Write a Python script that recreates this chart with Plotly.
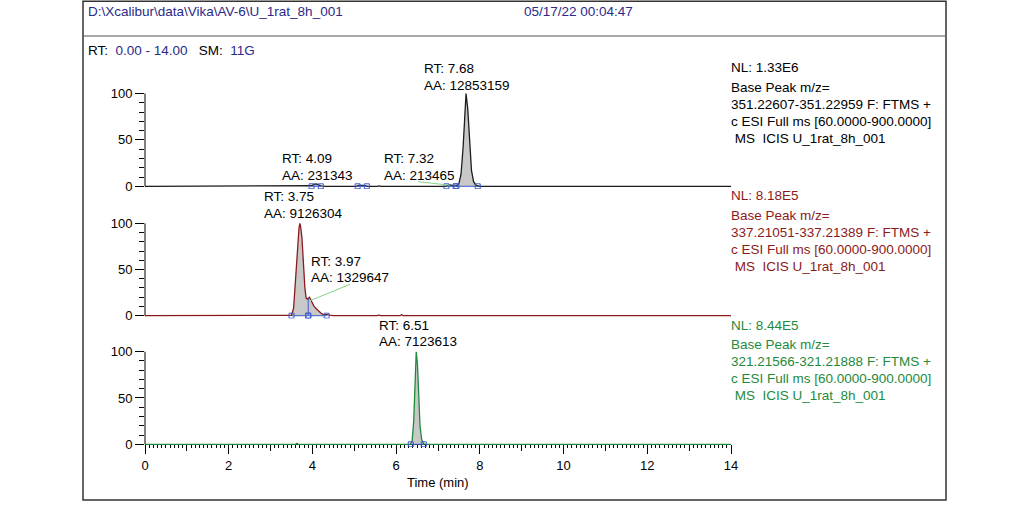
import numpy as np
import plotly.graph_objects as go

# ---------------- data ----------------
# Panel 1: Base Peak m/z 351.22607-351.22959 (NL 1.33E6)
t1 = [0.0, 3.90, 3.98, 4.03, 4.09, 4.14, 4.20, 4.30, 5.05, 5.10, 5.15, 5.20, 5.26, 5.32,
      5.55, 5.60, 5.65, 7.18, 7.24, 7.28, 7.34, 7.40, 7.44, 7.50, 7.55, 7.60, 7.64, 7.67,
      7.71, 7.75, 7.80, 7.85, 7.90, 7.95, 8.05, 14.0]
i1 = [0.0, 0.0, 0.6, 2.0, 2.6, 1.8, 0.5, 0.0, 0.0, 0.9, 1.3, 1.1, 0.6, 0.0,
      0.0, 0.5, 0.0, 0.0, 0.9, 1.6, 1.0, 0.4, 0.3, 3.0, 13.0, 42.0, 80.0, 100.0,
      84.0, 48.0, 17.0, 5.0, 1.5, 0.3, 0.0, 0.0]
peaks1 = [(3.98, 4.20), (5.08, 5.30), (7.20, 7.42), (7.44, 7.95)]

# Panel 2: Base Peak m/z 337.21051-337.21389 (NL 8.18E5)
t2 = [0.0, 3.45, 3.50, 3.55, 3.60, 3.65, 3.68, 3.70, 3.72, 3.75, 3.78, 3.82, 3.85, 3.88,
      3.93, 3.96, 3.99, 4.03, 4.08, 4.14, 4.20, 4.25, 4.30, 4.35, 4.40, 4.50, 5.55, 5.58,
      5.62, 6.10, 6.13, 6.16, 14.0]
i2 = [0.0, 0.0, 0.5, 8.0, 42.0, 80.0, 95.0, 100.0, 96.0, 84.0, 55.0, 30.0, 19.0, 18.0,
      20.0, 17.0, 14.0, 11.0, 8.0, 5.0, 3.0, 1.5, 1.6, 1.2, 0.5, 0.0, 0.0, 0.8,
      0.0, 0.0, 1.2, 0.0, 0.0]
peaks2 = [(3.50, 3.90), (3.90, 4.34)]

# Panel 3: Base Peak m/z 321.21566-321.21888 (NL 8.44E5)
t3 = [0.0, 3.60, 3.63, 3.66, 6.33, 6.38, 6.42, 6.45, 6.48, 6.51, 6.54, 6.57, 6.61, 6.66, 6.72, 14.0]
i3 = [0.0, 0.0, 1.0, 0.0, 0.0, 3.0, 25.0, 65.0, 100.0, 86.0, 50.0, 20.0, 5.0, 0.5, 0.0, 0.0]
peaks3 = [(6.35, 6.66)]

nl_values = ["1.33E6", "8.18E5", "8.44E5"]
mz_ranges = ["351.22607-351.22959", "337.21051-337.21389", "321.21566-321.21888"]
scan_filter = "c ESI Full ms [60.0000-900.0000]"
ms_line = "\u00a0MS\u00a0\u00a0ICIS U_1rat_8h_001"

label_rt = [["4.09", "7.32", "7.68"], ["3.75", "3.97"], ["6.51"]]
label_aa = [["231343", "213465", "12853159"], ["9126304", "1329647"], ["7123613"]]

x_ticks_major = list(range(0, 15))
x_ticks_label = list(range(0, 15, 2))
y_ticks = [0, 50, 100]

file_path = r"D:\Xcalibur\data\Vika\AV-6\U_1rat_8h_001"
date_str = "05/17/22 00:04:47"

# ---------------- layout helpers ----------------
W, H = 1033, 508
FONT = "Liberation Sans, Arial, Helvetica, sans-serif"
FS = 13.5
TFS = 13
NAVY = "#2a2a8a"
COLORS = ["#1c1c1c", "#8b1a1a", "#1f8a3c"]
GREY = "#c8c8c8"
BLUE = "#3c5cc8"
GREEN_LINK = "#86d486"

def px(x):
    return x / W

def py(y):
    return 1 - y / H

X0, X1 = 145, 731
panel_px = [(93.5, 186.3), (223.3, 315.7), (351.7, 444.3)]  # (y of 100, y of 0)
YLO, YHI = -3, 104

fig = go.Figure()

traces_t = [t1, t2, t3]
traces_i = [i1, i2, i3]
peaks_all = [peaks1, peaks2, peaks3]
yrefs = ["y", "y2", "y3"]

for k in range(3):
    t = np.array(traces_t[k])
    v = np.array(traces_i[k])
    yr = yrefs[k]
    for (a, b) in peaks_all[k]:
        m = (t >= a) & (t <= b)
        xs = np.concatenate([[a], t[m], [b]])
        ys = np.concatenate([[np.interp(a, t, v)], v[m], [np.interp(b, t, v)]])
        fig.add_trace(go.Scatter(x=xs, y=ys, mode="lines", fill="tozeroy",
                                 fillcolor=GREY, line=dict(width=0),
                                 xaxis="x", yaxis=yr, hoverinfo="skip", showlegend=False))
    fig.add_trace(go.Scatter(x=t, y=v, mode="lines", line=dict(color=COLORS[k], width=1.3),
                             xaxis="x", yaxis=yr, hoverinfo="skip", showlegend=False))
    for (a, b) in peaks_all[k]:
        fig.add_trace(go.Scatter(x=[a, b], y=[0, 0], mode="lines+markers",
                                 line=dict(color=BLUE, width=1),
                                 marker=dict(symbol="square-open", size=5, color=BLUE, line=dict(width=1)),
                                 xaxis="x", yaxis=yr, hoverinfo="skip", showlegend=False))

split = peaks2[0][1]
fig.add_trace(go.Scatter(x=[split, split], y=[0, np.interp(split, t2, i2)], mode="lines",
                         line=dict(color=BLUE, width=1), xaxis="x", yaxis="y2",
                         hoverinfo="skip", showlegend=False))

fig.add_trace(go.Scatter(x=[0, 14], y=[0, 0], mode="none", xaxis="x2", yaxis="y3",
                         hoverinfo="skip", showlegend=False))

layout = dict(
    template="none",
    width=W, height=H, margin=dict(l=0, r=0, t=0, b=0, pad=0, autoexpand=False),
    paper_bgcolor="white", plot_bgcolor="rgba(0,0,0,0)",
    font=dict(family=FONT, size=FS, color="black"),
    showlegend=False,
)

layout["xaxis"] = dict(domain=[px(X0), px(X1)], range=[0, 14], anchor="free",
                       position=py(panel_px[2][1]), showline=True, linecolor="black",
                       linewidth=1, ticks="outside", tickvals=x_ticks_major,
                       ticktext=[""] * len(x_ticks_major), ticklen=6, tickcolor="black",
                       tickwidth=1, automargin=False,
                       minor=dict(ticks="outside", dtick=0.1, tick0=0, ticklen=3,
                                  tickcolor="black", tickwidth=1, showgrid=False),
                       showgrid=False, zeroline=False, fixedrange=True)
layout["xaxis2"] = dict(domain=[px(X0), px(X1)], range=[0, 14], anchor="free",
                        overlaying="x", position=py(panel_px[2][1]), showline=False,
                        ticks="outside", tickvals=x_ticks_label,
                        ticktext=[str(v) for v in x_ticks_label], ticklen=9,
                        tickcolor="black", tickwidth=1, showgrid=False, zeroline=False,
                        automargin=False,
                        tickfont=dict(size=TFS, color="black"), side="bottom")

for k in range(3):
    y100, y0 = panel_px[k]
    ppu = (y0 - y100) / 100.0
    dom = [py(y0 - YLO * ppu), py(y100 - (YHI - 100) * ppu)]
    key = "yaxis" if k == 0 else "yaxis%d" % (k + 1)
    layout[key] = dict(domain=dom, range=[YLO, YHI], anchor="x", showline=False,
                       ticks="outside", tickvals=y_ticks, automargin=False,
                       ticktext=[str(v) for v in y_ticks], ticklen=9, tickcolor="black",
                       tickwidth=1,
                       minor=dict(ticks="outside", tickvals=[10, 20, 30, 40, 60, 70, 80, 90],
                                  ticklen=5, tickcolor="black", tickwidth=1, showgrid=False),
                       showgrid=False, zeroline=False, tickfont=dict(size=TFS, color="black"))

shapes = []
shapes.append(dict(type="rect", xref="paper", yref="paper", x0=px(83), x1=px(946),
                   y0=py(500), y1=py(1.2), line=dict(color="#333333", width=1.5)))
shapes.append(dict(type="line", xref="paper", yref="paper", x0=px(83), x1=px(946),
                   y0=py(36), y1=py(36), line=dict(color="#555555", width=1)))
for k in range(3):
    shapes.append(dict(type="line", xref="paper", yref=yrefs[k], x0=px(X0), x1=px(X0),
                       y0=0, y1=100, line=dict(color="black", width=1)))

annotations = []

def txt(text, x, y, color="black", size=FS, xanchor="left"):
    annotations.append(dict(text=text, x=px(x), y=py(y), xref="paper", yref="paper",
                            xanchor=xanchor, yanchor="middle", showarrow=False,
                            font=dict(family=FONT, size=size, color=color)))

txt(file_path, 86, 12, NAVY)
txt(date_str, 522, 12, NAVY)
txt('RT:\u00a0\u00a0<span style="color:%s">0.00 - 14.00</span>\u00a0\u00a0\u00a0SM:\u00a0\u00a0<span style="color:%s">11G</span>'
    % (NAVY, NAVY), 86, 50)

info_y = [(67.5, 87.3, 104.4, 121.6, 138.8), (195, 215, 232.3, 249.3, 266.3),
          (325, 344.3, 361.6, 378.9, 395.8)]
info_col = ["black", "#8b1a1a", "#1f8a3c"]
for k in range(3):
    ys = info_y[k]
    c = info_col[k]
    txt("NL: " + nl_values[k], 729, ys[0], c)
    txt("Base Peak m/z=", 729, ys[1], c)
    txt(mz_ranges[k] + " F: FTMS +", 729, ys[2], c)
    txt(scan_filter, 729, ys[3], c)
    txt(ms_line, 729, ys[4], c)

label_pos = [[(280, 158.3), (381.7, 158.3), (421.7, 69)],
             [(261.7, 196.7), (309.3, 261)],
             [(377.3, 325)]]
for k in range(3):
    for j in range(len(label_rt[k])):
        lx, ly = label_pos[k][j]
        txt("RT: " + label_rt[k][j], lx, ly)
        txt("AA: " + label_aa[k][j], lx, ly + 16.7)

connectors = [(0, 1, (418, 181.7)), (1, 1, (350, 284.3))]
for (k, j, (sx, sy)) in connectors:
    y100, y0 = panel_px[k]
    ppu = (y0 - y100) / 100.0
    rt = float(label_rt[k][j])
    apex = float(np.interp(rt, traces_t[k], traces_i[k]))
    tx = (sx - X0) / (X1 - X0) * 14.0
    ty = (y0 - sy) / ppu
    shapes.append(dict(type="line", xref="x", yref=yrefs[k], x0=tx, y0=ty, x1=rt - 0.04, y1=apex,
                       line=dict(color=GREEN_LINK, width=1)))

txt("Time (min)", 438, 482, size=TFS, xanchor="center")

layout["shapes"] = shapes
layout["annotations"] = annotations
fig.update_layout(**layout)

fig.write_html("out.html", config={"displayModeBar": False, "staticPlot": True},
               post_script="document.body.style.margin='0px';document.body.style.padding='0px';")
